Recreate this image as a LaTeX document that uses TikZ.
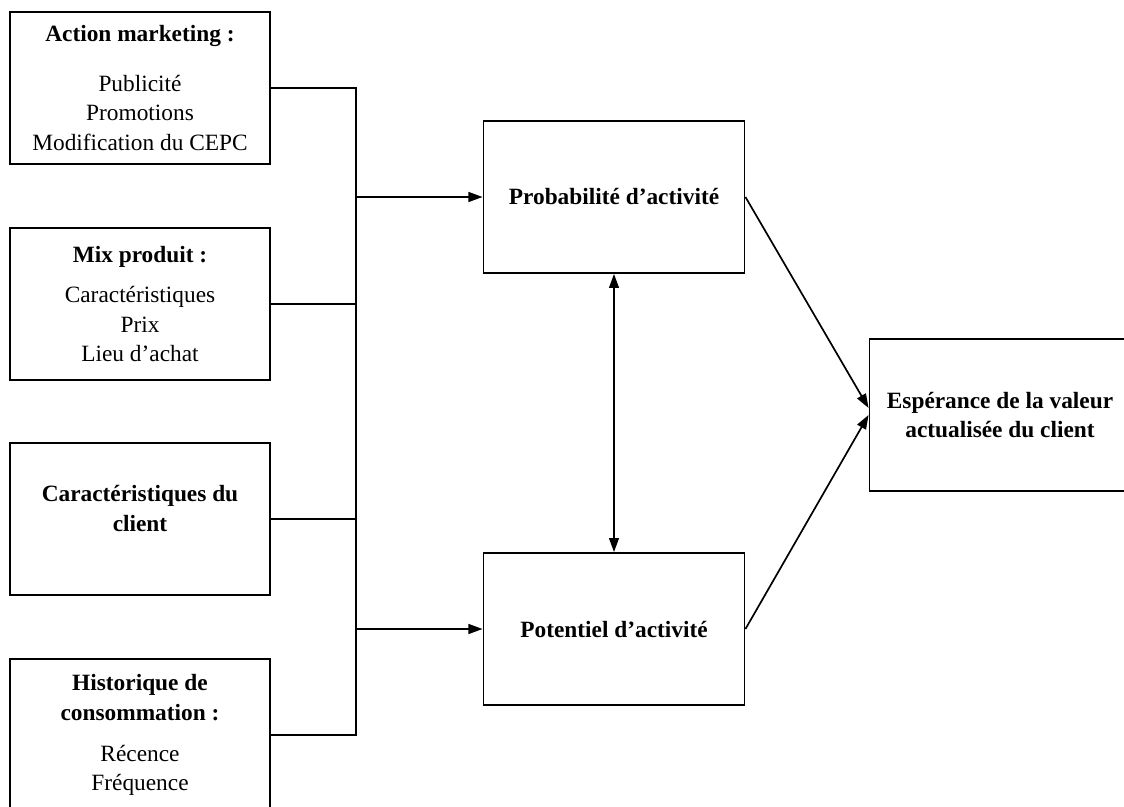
\documentclass[tikz,border=0pt]{standalone}
\usepackage{fontspec}
\setmainfont{Liberation Serif}
\usepackage{tikz}
\usetikzlibrary{arrows.meta, positioning, calc}

\begin{document}
\begin{tikzpicture}[x=0.025cm, y=-0.025cm,
    every node/.style={font=\fontsize{16.6}{21}\selectfont},
    src/.style={rectangle, draw, line width=1.3pt, minimum width=6.5cm,
                minimum height=3.8cm, align=center},
    res/.style={rectangle, draw, line width=1.3pt, minimum width=6.525cm,
                minimum height=3.8cm, align=center, font=\fontsize{16.6}{21}\selectfont\bfseries},
    lnk/.style={line width=1.2pt},
    arr/.style={line width=1.2pt, -{Triangle[length=10pt,width=7pt]}},
    dbl/.style={line width=1.2pt, {Triangle[length=10pt,width=7pt]}-{Triangle[length=10pt,width=7pt]}}]

  \useasboundingbox (0,0) rectangle (1124,807);
  \clip (0,0) rectangle (1124,807);

  % sources
  \node[src] (act)  at (140,88)  {\textbf{Action marketing :}\\[14pt]Publicité\\Promotions\\Modification du CEPC};
  \node[src] (mix)  at (140,304) {\textbf{Mix produit :}\\[8pt]Caractéristiques\\Prix\\Lieu d’achat};
  \node[src, text depth=15pt] (cli)  at (140,519) {\textbf{Caractéristiques du}\\\textbf{client}};
  \node[src] (hist) at (140,735) {\textbf{Historique de}\\\textbf{consommation :}\\[8pt]Récence\\Fréquence};

  % model
  \node[res] (prob) at (614,197) {Probabilité d’activité};
  \node[res] (pot)  at (614,629) {Potentiel d’activité};
  \node[res] (esp)  at (1000,415) {Espérance de la valeur\\actualisée du client};

  \coordinate (bus) at (356,400);

  \draw[lnk] (act.east) -| (bus) |- (hist.east);
  \draw[lnk] (mix.east) -- (mix.east -| bus);
  \draw[lnk] (cli.east) -- (cli.east -| bus);
  \draw[arr] (bus |- prob.west) -- (prob.west);
  \draw[arr] (bus |- pot.west) -- (pot.west);

  \draw[dbl] (prob.south) -- (pot.north);
  \draw[arr] (prob.east) -- ([yshift=5pt]esp.west);
  \draw[arr] (pot.east) -- (esp.west);
\end{tikzpicture}
\end{document}
